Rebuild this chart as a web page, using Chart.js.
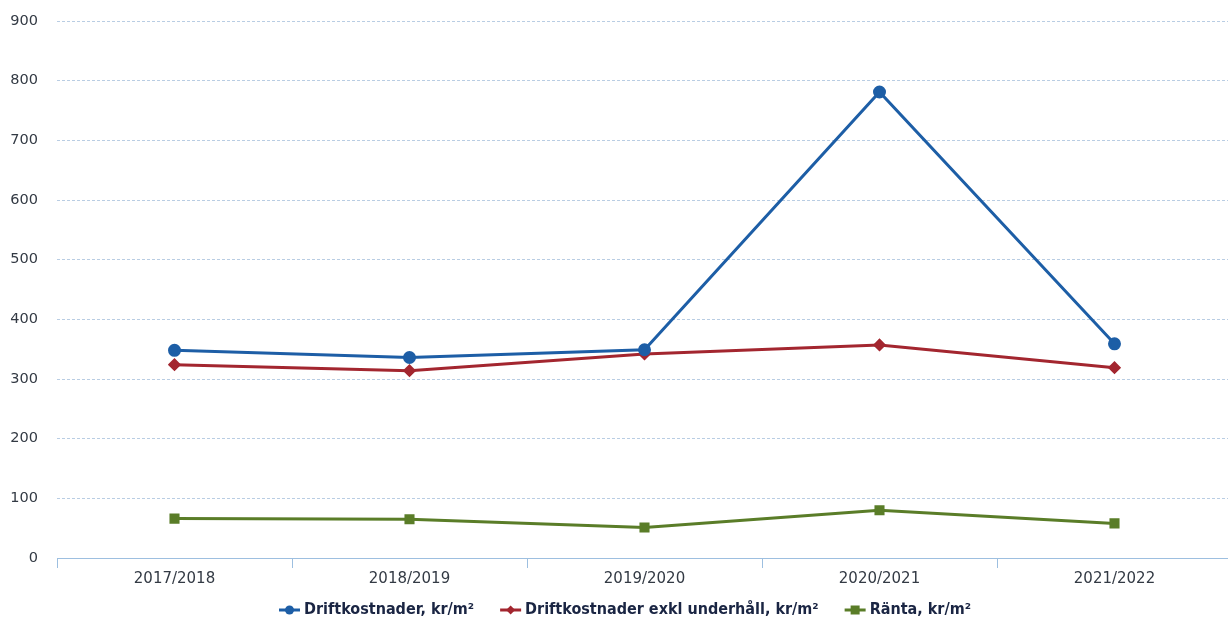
<!DOCTYPE html>
<html>
<head>
<meta charset="utf-8">
<script src="https://cdn.jsdelivr.net/npm/chart.js@4/dist/chart.umd.min.js"></script>
<style>
  html, body { margin: 0; padding: 0; background: #ffffff; overflow: hidden; }
  #wrap { position: relative; width: 1240px; height: 624px; }
</style>
</head>
<body>
<div id="wrap"><canvas id="chart"></canvas></div>
<script>
// Costs per square metre, by financial year
const years = ['2017/2018', '2018/2019', '2019/2020', '2020/2021', '2021/2022'];
const driftkostnader = [348, 336, 349, 781, 359];
const driftkostnaderExklUnderhall = [324, 314, 342, 357, 319];
const ranta = [66, 65, 51, 80, 58];
const yTicks = [0, 100, 200, 300, 400, 500, 600, 700, 800, 900];

const BLUE = '#1d5ea6';
const RED = '#a3262f';
const GREEN = '#5a7d28';
const LEGEND_FONT = 'bold 16px "DejaVu Sans Condensed", "DejaVu Sans", sans-serif';

// Legend row under the axis: a short line with the series marker, then the label
const lineLegend = {
  id: 'lineLegend',
  afterDraw(chart) {
    const ctx = chart.ctx;
    const sets = chart.data.datasets;
    const symW = 21, symGap = 4, itemGap = 26;
    ctx.save();
    ctx.font = LEGEND_FONT;
    const widths = sets.map(ds => ctx.measureText(ds.label).width);
    const total = widths.reduce((s, w) => s + symW + symGap + w, 0) + itemGap * (sets.length - 1);
    const cx = 625;
    const y = 610;
    let x = cx - total / 2;
    sets.forEach((ds, i) => {
      const c = ds.borderColor;
      ctx.strokeStyle = c; ctx.fillStyle = c; ctx.lineWidth = 3;
      ctx.beginPath(); ctx.moveTo(x, y); ctx.lineTo(x + symW, y); ctx.stroke();
      const mx = x + symW / 2;
      ctx.beginPath();
      if (ds.pointStyle === 'circle') ctx.arc(mx, y, 4.5, 0, Math.PI * 2);
      else if (ds.pointStyle === 'rectRot') { ctx.moveTo(mx, y - 4.5); ctx.lineTo(mx + 4.5, y); ctx.lineTo(mx, y + 4.5); ctx.lineTo(mx - 4.5, y); ctx.closePath(); }
      else ctx.rect(mx - 4.5, y - 4.5, 9, 9);
      ctx.fill();
      x += symW + symGap;
      ctx.fillStyle = '#1a2543';
      ctx.textAlign = 'left'; ctx.textBaseline = 'middle';
      ctx.fillText(ds.label, x, y);
      x += widths[i] + itemGap;
    });
    ctx.restore();
  }
};

new Chart(document.getElementById('chart'), {
  type: 'line',
  data: {
    labels: years,
    datasets: [
      { label: 'Driftkostnader, kr/m²', data: driftkostnader, borderColor: BLUE, backgroundColor: BLUE,
        borderWidth: 3, pointStyle: 'circle', pointRadius: 5, pointHoverRadius: 5, tension: 0 },
      { label: 'Driftkostnader exkl underhåll, kr/m²', data: driftkostnaderExklUnderhall, borderColor: RED, backgroundColor: RED,
        borderWidth: 3, pointStyle: 'rectRot', pointRadius: 4.5, pointHoverRadius: 4.5, tension: 0 },
      { label: 'Ränta, kr/m²', data: ranta, borderColor: GREEN, backgroundColor: GREEN,
        borderWidth: 3, pointStyle: 'rect', pointRadius: 5, pointHoverRadius: 5, tension: 0 }
    ]
  },
  plugins: [lineLegend],
  options: {
    responsive: true,
    maintainAspectRatio: false,
    animation: false,
    layout: { padding: { top: 21, right: 3, left: 0, bottom: 34 } },
    plugins: {
      tooltip: { enabled: false },
      legend: { display: false }
    },
    scales: {
      x: {
        offset: true,
        grid: { offset: true, drawOnChartArea: false, drawTicks: true, tickLength: 10, color: '#9dbfe0', lineWidth: 1 },
        border: { display: true, color: '#9dbfe0', dash: [3, 2], width: 1 },
        ticks: { color: '#333a44', padding: 2, font: { family: '"DejaVu Sans", Verdana, sans-serif', size: 15 } }
      },
      y: {
        min: 0, max: 900,
        afterBuildTicks(scale) { scale.ticks = yTicks.map(v => ({ value: v })); },
        afterFit(scale) { scale.width = 57; scale.paddingTop = 0; scale.paddingBottom = 0; },
        grid: { drawTicks: false, color: '#b9cde3', lineWidth: 1 },
        border: { display: false, dash: [3, 2] },
        ticks: { color: '#333a44', padding: 19, font: { family: '"DejaVu Sans", Verdana, sans-serif', size: 14.5 } }
      }
    }
  }
});
</script>
</body>
</html>
